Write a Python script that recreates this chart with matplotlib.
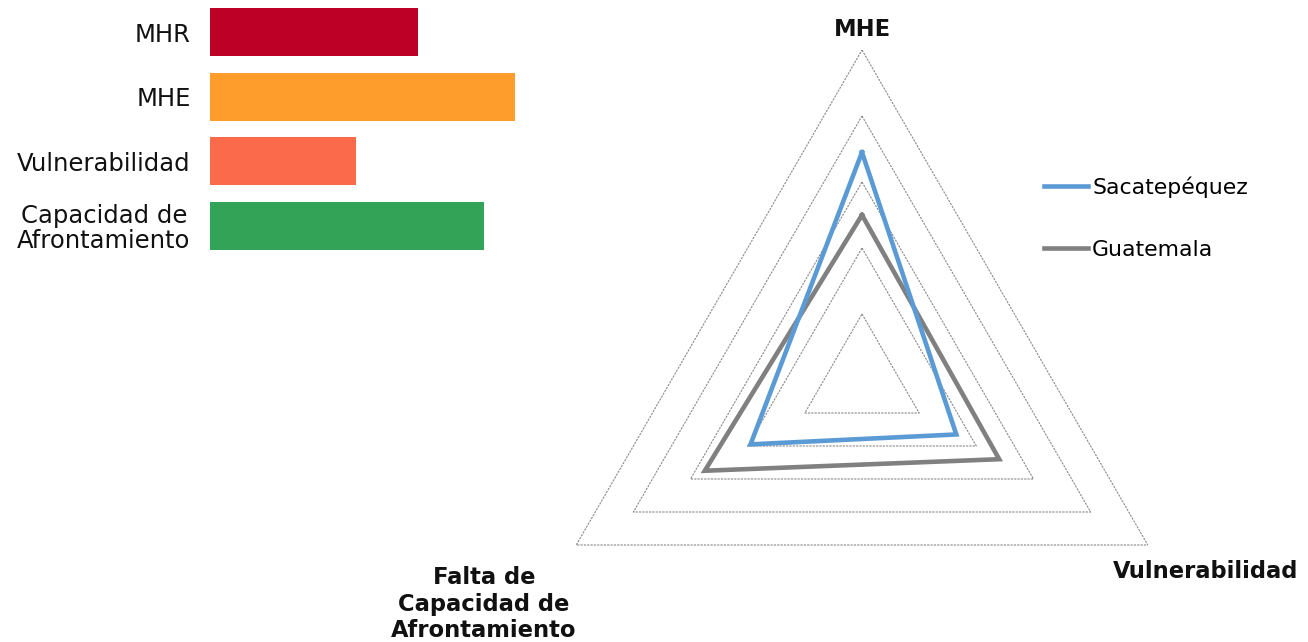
import numpy as np
import matplotlib
matplotlib.use("Agg")
import matplotlib.pyplot as plt

# ---- data ----
bar_labels = ["MHR", "MHE", "Vulnerabilidad", "Capacidad de\nAfrontamiento"]
bar_values = [4.7, 6.9, 3.3, 6.2]
bar_colors = ["#BD0026", "#FE9C2C", "#FB6A4A", "#33A457"]

radar_axes = ["MHE", "Vulnerabilidad", "Falta de\nCapacidad de\nAfrontamiento"]
sacatepequez = [6.9, 3.3, 3.9]
guatemala = [5.0, 4.8, 5.5]
grid_levels = [2, 4, 6, 8, 10]

W, H = 1308, 642
fig = plt.figure(figsize=(W / 100, H / 100), dpi=100)
fig.patch.set_facecolor("white")

# ---- bar chart ----
axb = fig.add_axes([210 / W, (H - 258) / H, 442 / W, 258 / H])
ypos = np.arange(len(bar_values))
axb.barh(ypos, bar_values, height=0.745, color=bar_colors)
axb.set_xlim(0, 10)
axb.set_ylim(3.5, -0.5)
axb.set_yticks(ypos)
labels = axb.set_yticklabels(bar_labels, fontsize=17.5, color="#111111")
for t in labels:
    t.set_multialignment("center")
    t.set_linespacing(1.05)
axb.tick_params(axis="y", length=0, pad=14)
axb.set_xticks([])
for s in axb.spines.values():
    s.set_visible(False)

# ---- radar chart ----
R = 330
cx, cy = 862, 380
axr = fig.add_axes([(cx - R) / W, (H - cy - R) / H, 2 * R / W, 2 * R / H],
                   projection="polar")
angles = np.deg2rad([90, -30, 210])
angles_c = np.append(angles, angles[0])
axr.set_ylim(0, 10)
axr.grid(False)
axr.spines["polar"].set_visible(False)
axr.set_xticks([])
axr.set_yticks([])
axr.patch.set_alpha(0)

for lv in grid_levels:
    axr.plot(angles_c, [lv] * 4, color="#8a8a8a", lw=0.8,
             linestyle=(0, (2, 1)), zorder=1)

l1, = axr.plot(angles_c, sacatepequez + sacatepequez[:1], color="#5B9BD5",
               lw=3.3, solid_joinstyle="miter", zorder=3, label="Sacatepéquez")
l2, = axr.plot(angles_c, guatemala + guatemala[:1], color="#808080",
               lw=3.3, solid_joinstyle="miter", zorder=2, label="Guatemala")

# axis labels
fig.text(862 / W, 1 - 30 / H, radar_axes[0], ha="center", va="center",
         fontsize=16.3, fontweight="bold", color="#111111")
fig.text(1206 / W, 1 - 572 / H, radar_axes[1], ha="center", va="center",
         fontsize=16.3, fontweight="bold", color="#111111")
fig.text(484 / W, 1 - 604 / H, radar_axes[2], ha="center", va="center",
         fontsize=16.3, fontweight="bold", color="#111111",
         multialignment="center", linespacing=1.17)

# legend
fig.legend(handles=[l1, l2], loc="center left",
           bbox_to_anchor=(1024 / W, 1 - 218 / H), frameon=False,
           fontsize=15.8, handlelength=2.0, handletextpad=0.2,
           labelspacing=1.9)

fig.savefig("out.png", dpi=100, facecolor="white")
